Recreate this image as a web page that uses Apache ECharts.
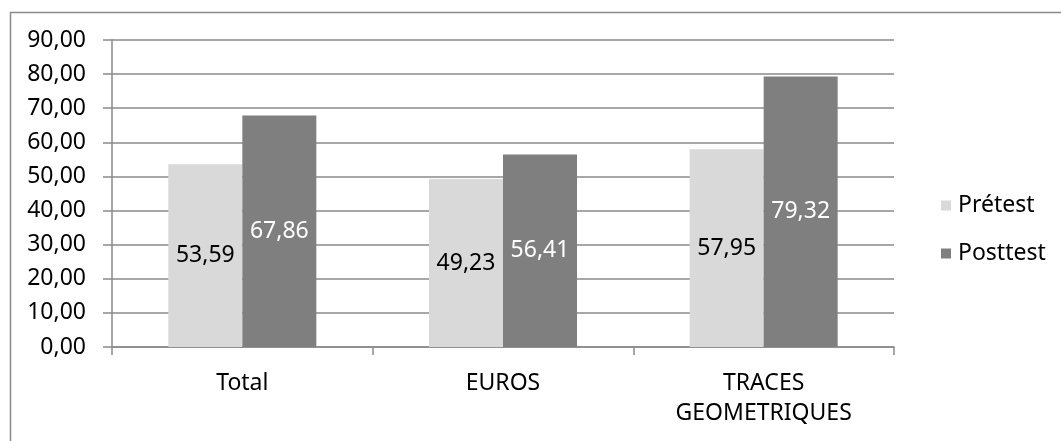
<!DOCTYPE html>
<html>
<head>
<meta charset="utf-8">
<script src="https://cdn.jsdelivr.net/npm/echarts@6/dist/echarts.min.js"></script>
<style>
  html, body { margin: 0; padding: 0; background: #ffffff; }
  #chart { width: 1061px; height: 441px; }
</style>
</head>
<body>
<div id="chart"></div>
<script>
// Scores moyens par domaine, avant et après l'intervention
const categories = ['Total', 'EUROS', 'TRACES\nGEOMETRIQUES'];
const pretest = [53.59, 49.23, 57.95];
const posttest = [67.86, 56.41, 79.32];
const seriesNames = ['Prétest', 'Posttest'];

const FONT = '"Noto Sans", "Open Sans", sans-serif';
const FS = 23;
const fr = v => Number(v).toFixed(2).replace('.', ',');

const chart = echarts.init(document.getElementById('chart'), null, { renderer: 'canvas' });

chart.setOption({
  backgroundColor: '#ffffff',
  animation: false,
  textStyle: { fontFamily: FONT },
  graphic: [{
    type: 'rect',
    left: 8, top: 10,
    shape: { width: 1200, height: 600 },
    style: { fill: 'none', stroke: '#8a8a8a', lineWidth: 1.5 },
    silent: true,
    z: -10
  }],
  grid: { left: 112, right: 167, top: 40, bottom: 94, containLabel: false },
  legend: {
    orient: 'vertical',
    left: 936,
    top: 189,
    itemWidth: 10,
    itemHeight: 10,
    itemGap: 25,
    icon: 'rect',
    textStyle: { fontFamily: FONT, fontSize: FS, color: '#000000', padding: [0, 0, 0, 2] },
    data: seriesNames
  },
  xAxis: {
    type: 'category',
    data: categories,
    axisLine: { lineStyle: { color: '#8a8a8a', width: 1.5 } },
    axisTick: { show: true, length: 8, alignWithLabel: false, lineStyle: { color: '#8a8a8a', width: 1.5 } },
    axisLabel: { fontFamily: FONT, fontSize: FS, color: '#000000', margin: 21, lineHeight: 30, interval: 0 }
  },
  yAxis: {
    type: 'value',
    min: 0, max: 90, interval: 10,
    axisLine: { show: true, lineStyle: { color: '#8a8a8a', width: 1.5 } },
    axisTick: { show: true, length: 9, lineStyle: { color: '#8a8a8a', width: 1.5 } },
    splitLine: { show: true, lineStyle: { color: '#8a8a8a', width: 1.5 } },
    axisLabel: { fontFamily: FONT, fontSize: FS, color: '#000000', margin: 26, formatter: fr }
  },
  series: [
    {
      name: seriesNames[0],
      type: 'bar',
      data: pretest,
      barWidth: 74,
      barGap: '0%',
      itemStyle: { color: '#d9d9d9' },
      label: { show: true, position: 'inside', fontFamily: FONT, fontSize: FS, color: '#000000', formatter: p => fr(p.value) }
    },
    {
      name: seriesNames[1],
      type: 'bar',
      data: posttest,
      barWidth: 74,
      barGap: '0%',
      itemStyle: { color: '#7f7f7f' },
      label: { show: true, position: 'inside', fontFamily: FONT, fontSize: FS, color: '#ffffff', formatter: p => fr(p.value) }
    }
  ]
});
</script>
</body>
</html>
